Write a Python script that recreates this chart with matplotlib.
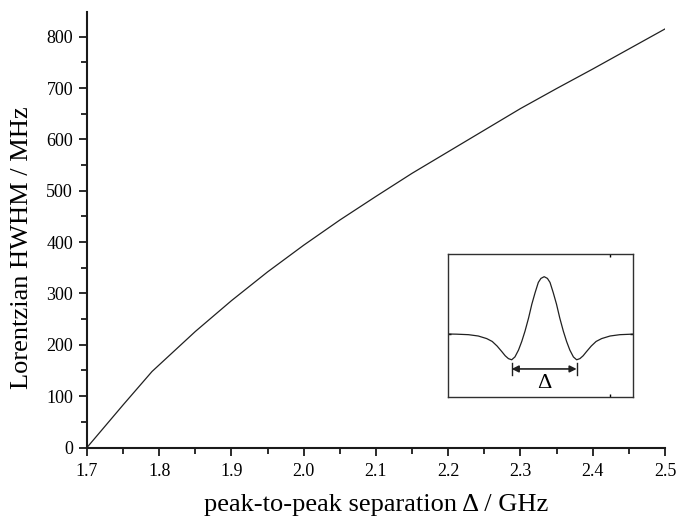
import matplotlib
matplotlib.use("Agg")
import matplotlib.pyplot as plt
from matplotlib.ticker import MultipleLocator, FormatStrFormatter

plt.rcParams['font.family'] = ['Liberation Serif', 'DejaVu Serif']

# Lorentzian half width versus peak-to-peak separation
separation = [1.70, 1.75, 1.79, 1.80, 1.85, 1.90, 1.95, 2.00, 2.05, 2.10,
              2.15, 2.20, 2.25, 2.30, 2.35, 2.40, 2.45, 2.50]
hwhm = [0, 83, 148, 161, 226, 286, 342, 394, 443, 489,
        534, 576, 618, 660, 699, 737, 776, 815]

# Sketch of the derivative line shape (symmetric about the centre)
shape_half_x = [0.0, 0.10, 0.18, 0.28, 0.38, 0.48, 0.59, 0.69, 0.79, 0.90,
                1.00, 1.10, 1.20, 1.30, 1.45, 1.60, 1.77, 2.03, 2.33, 2.70, 2.97]
shape_half_y = [1.0, 0.97, 0.90, 0.72, 0.52, 0.28, 0.05, -0.13, -0.28, -0.40,
                -0.45, -0.43, -0.38, -0.31, -0.21, -0.13, -0.08, -0.035, -0.012, -0.003, 0.0]

fig = plt.figure(figsize=(6.76, 5.18), dpi=100)
ax = fig.add_axes([0.1287, 0.1361, 0.855, 0.8407])

ax.plot(separation, hwhm, color='#202020', lw=0.9)

ax.set_xlim(1.7, 2.5)
ax.set_ylim(0, 848)
ax.spines['top'].set_visible(False)
ax.spines['right'].set_visible(False)
for s in ('left', 'bottom'):
    ax.spines[s].set_linewidth(1.5)
    ax.spines[s].set_color('#1a1a1a')

ax.xaxis.set_major_locator(MultipleLocator(0.1))
ax.xaxis.set_minor_locator(MultipleLocator(0.05))
ax.xaxis.set_major_formatter(FormatStrFormatter('%.1f'))
ax.yaxis.set_major_locator(MultipleLocator(100))
ax.yaxis.set_minor_locator(MultipleLocator(50))
ax.tick_params(which='major', direction='out', length=6, width=1.3,
               labelsize=13, pad=4, color='#1a1a1a')
ax.tick_params(which='minor', direction='out', length=4, width=1.3, color='#1a1a1a')
ax.tick_params(axis='x', which='major', pad=5)

ax.set_xlabel('peak-to-peak separation \u0394 / GHz', fontsize=19, labelpad=10)
ax.set_ylabel('Lorentzian HWHM / MHz', fontsize=19)
ax.yaxis.set_label_coords(-0.094, 0.46)

# Inset: line shape with the separation marked
ins = fig.add_axes([0.6623, 0.2342, 0.2748, 0.2749])
xs = [-v for v in shape_half_x[::-1]] + shape_half_x[1:]
ys = shape_half_y[::-1] + shape_half_y[1:]
ins.plot(xs, ys, color='#202020', lw=0.9)
ins.set_xlim(-2.97, 2.75)
ins.set_ylim(-1.094, 1.391)
for s in ins.spines.values():
    s.set_linewidth(1.0)
    s.set_color('#303030')
ins.set_xticks([2.04])
ins.set_yticks([0])
ins.tick_params(direction='in', length=2, width=1, top=True, right=True,
                labelbottom=False, labelleft=False)

ins.annotate('', xy=(-1.0, -0.61), xytext=(1.0, -0.61),
             arrowprops=dict(arrowstyle='<|-|>', color='#202020', lw=1.2,
                             mutation_scale=10, shrinkA=0, shrinkB=0))
ins.plot([-1.0, -1.0], [-0.51, -0.72], color='#202020', lw=1.0)
ins.plot([1.0, 1.0], [-0.51, -0.72], color='#202020', lw=1.0)
ins.text(0.0, -0.87, '\u0394', ha='center', va='center', fontsize=16)

fig.savefig('out.png', dpi=100)
